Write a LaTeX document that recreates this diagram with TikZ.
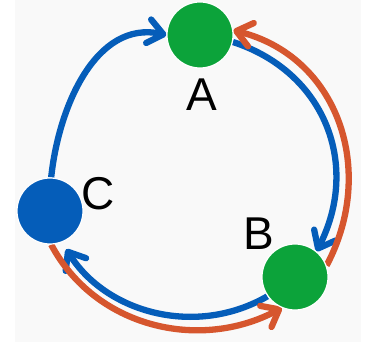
\documentclass[tikz,border=0pt]{standalone}
\usepackage{fontspec}
\setmainfont{Liberation Sans}
\usetikzlibrary{arrows.meta,backgrounds}
\definecolor{nodegreen}{RGB}{12,163,58}
\definecolor{nodeblue}{RGB}{5,93,185}
\definecolor{arcorange}{RGB}{214,86,46}
\definecolor{bggray}{RGB}{249,249,249}
\tikzset{
  vert/.style={circle,minimum size=66pt,inner sep=0pt,draw=white,line width=1.2pt},
  lbl/.style={inner sep=0pt,font=\fontsize{46}{46}\selectfont},
  flow/.style={line width=6.3pt,-{Straight Barb[round,length=15pt,width=24pt]}},
  bluearc/.style={flow,draw=nodeblue},
  orangearc/.style={flow,draw=arcorange}
}
\begin{document}
\begin{tikzpicture}[x=1pt,y=1pt]
\useasboundingbox (0,0) rectangle (372,343);
\node[vert,fill=nodegreen] (A) at (200,308) {};
\node[vert,fill=nodegreen] (B) at (295,66) {};
\node[vert,fill=nodeblue] (C) at (50,132) {};
\node[lbl] (la) at (202,248.5) {A};
\node[lbl] (lb) at (258.5,109.5) {B};
\node[lbl] (lc) at (98.5,149.5) {C};
\begin{pgfonlayer}{background}
\fill[bggray] (15,1) rectangle (361,343);
\draw[bluearc] (C.88) to[out=84,in=168] (A.180);
\draw[bluearc] (A.-12) to[out=-18,in=63,looseness=1.1] (B.50);
\draw[bluearc,shorten >=8pt] (B.215) to[out=210,in=-58] (C.-69);
\draw[orangearc] (C.-88) to[out=-62,in=208] (B.-113);
\draw[orangearc] (B.20) to[out=62,in=-14,looseness=1.09] (A.8);
\end{pgfonlayer}
\end{tikzpicture}
\end{document}
